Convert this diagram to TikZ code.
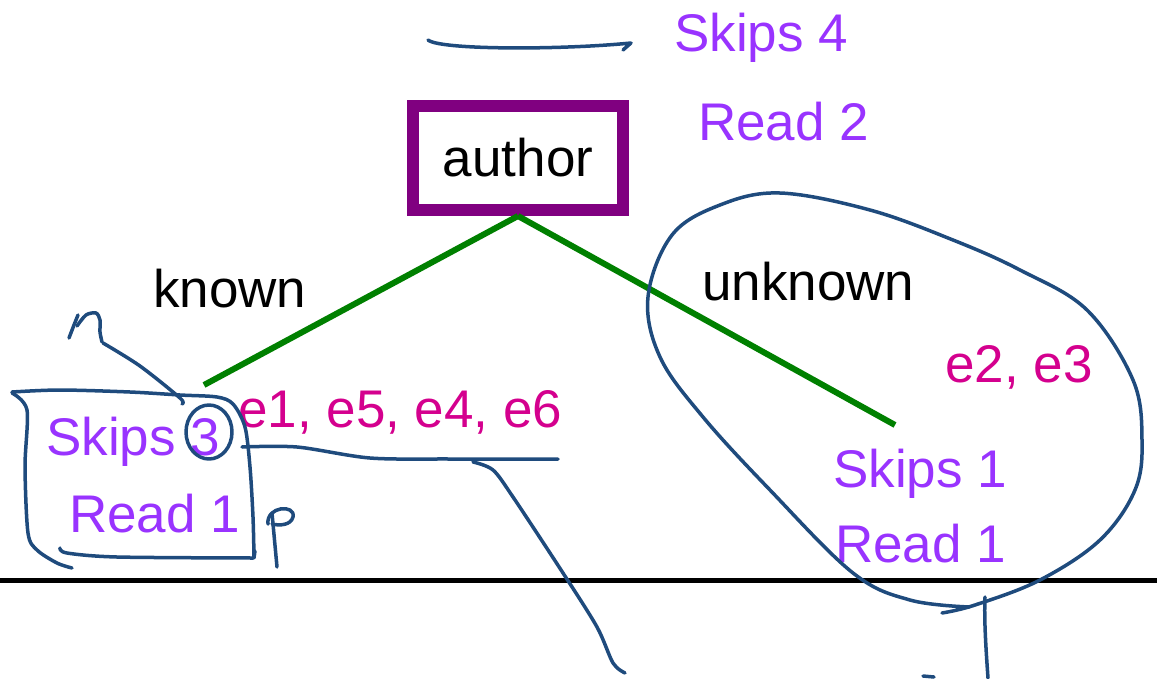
\documentclass[tikz,border=0pt]{standalone}
\usepackage{fontspec}
\setmainfont{Liberation Sans}
\definecolor{countpurple}{RGB}{153,51,255}
\definecolor{edgemagenta}{RGB}{212,0,142}
\definecolor{boxpurple}{RGB}{128,0,128}
\definecolor{branchgreen}{RGB}{0,128,0}
\definecolor{inkblue}{RGB}{31,75,125}
\begin{document}
\begin{tikzpicture}[x=1pt,y=-1pt,
  lbl/.style={inner sep=0pt, anchor=base west, font=\fontsize{53}{60}\selectfont},
  count/.style={lbl, text=countpurple},
  edgelist/.style={lbl, text=edgemagenta},
  branch/.style={draw=branchgreen, line width=6pt},
  ink/.style={draw=inkblue, line width=3.5pt, line cap=round, line join=round}]
\useasboundingbox (0,0) rectangle (1157,678);

% ground rule
\coordinate (ruleL) at (0,580);
\coordinate (ruleR) at (1157,580);
\draw[line width=5pt] (ruleL) -- (ruleR);

% root of the tree
\node[draw=boxpurple, line width=12pt, minimum width=210pt, minimum height=104pt,
      inner sep=0pt, font=\fontsize{53}{60}\selectfont] (author) at (518,158) {author};
\node[count] (skipsTop) at (674,51) {Skips 4};
\node[count] (readTop) at (698,140) {Read 2};

% branches
\coordinate (kend) at (204,385);
\coordinate (uend) at (895,425);
\draw[branch] (author.south) -- (kend);
\draw[branch] (author.south) -- (uend);
\node[lbl] (known) at (153,307) {known};
\node[lbl] (unknown) at (702,300) {unknown};

% left leaf
\node[edgelist] (leftEdges) at (238,427) {e1, e5, e4, e6};
\node[count] (skipsL) at (46,455) {Skips 3};
\node[count] (readL) at (69,532) {Read 1};

% right leaf
\node[edgelist] (rightEdges) at (945,382) {e2, e3};
\node[count] (skipsR) at (833,487) {Skips 1};
\node[count] (readR) at (835,562) {Read 1};

% handwritten annotations
\draw[ink] (428,40) .. controls (440,50) and (560,50) .. (631,43) -- (623,50);

% loop around the right leaf
\draw[ink] plot[smooth, tension=0.6] coordinates {(942,613) (975,605) (1040,580) (1100,540)
  (1135,490) (1142,440) (1133,380) (1087,310) (1020,270) (953,240) (870,210) (780,193)
  (720,205) (672,235) (648,297) (660,357) (703,417) (770,490) (853,573) (910,600) (970,607)};
\draw[ink] (985,597) .. controls (984,620) and (986,650) .. (988,678);
\draw[ink] (923,676) -- (934,677);

% box around the left leaf
\draw[ink] plot[smooth, tension=0.5] coordinates {(12,392) (60,390) (130,392) (180,395)
  (217,397) (233,404) (245,427) (250,467) (253,517) (254,557)};
\draw[ink] plot[smooth, tension=0.5] coordinates {(12,393) (27,410) (25,467) (28,533)
  (37,550) (57,563) (72,568)};
\draw[ink] plot[smooth, tension=0.5] coordinates {(60,548) (67,553) (117,557) (253,558)};
\draw[ink] (254,558) -- (255,551);

% n with its pointer
\draw[ink] plot[smooth, tension=0.5] coordinates {(69,338) (74,325) (78,315)};
\draw[ink] plot[smooth, tension=0.5] coordinates {(77,326) (86,315) (96,313) (100,320) (100,332) (102,342)};
\draw[ink] plot[smooth, tension=0.5] coordinates {(103,343) (140,366) (180,398) (182,404)};

% circled count
\draw[ink] (209,432) ellipse [x radius=23, y radius=27];

% underline and pointer
\draw[ink] plot[smooth, tension=0.5] coordinates {(242,447) (297,447) (370,458) (450,459) (558,459)};
\draw[ink] plot[smooth, tension=0.5] coordinates {(473,462) (493,470) (513,497) (563,573)
  (597,627) (613,663) (625,673)};

% p
\draw[ink] (272,513) -- (277,567);
\draw[ink] (268,524) .. controls (266,506) and (296,504) .. (293,517)
  .. controls (291,525) and (280,526) .. (272,524);
\end{tikzpicture}
\end{document}
